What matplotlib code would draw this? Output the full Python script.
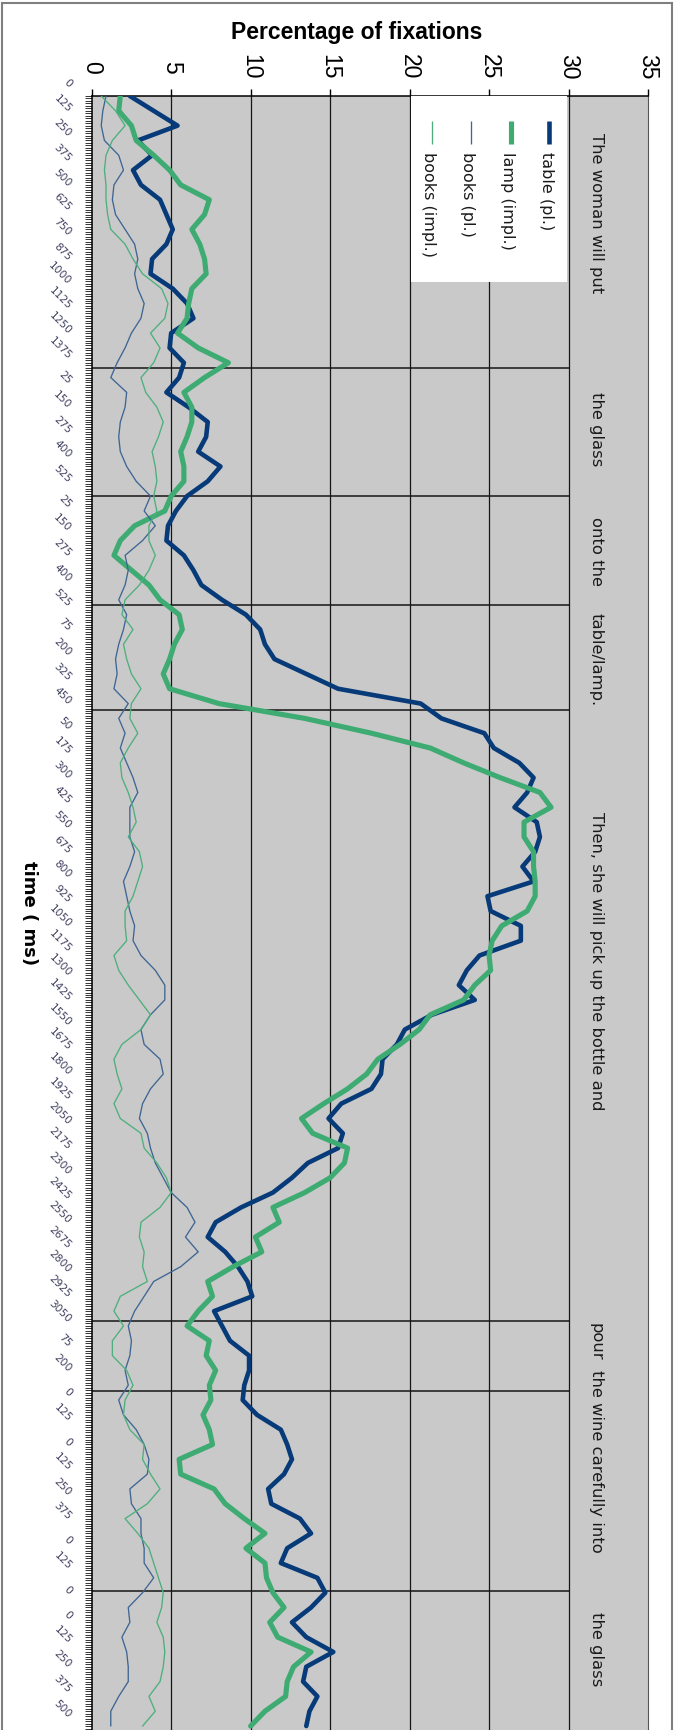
import matplotlib
matplotlib.use("Agg")
import matplotlib.pyplot as plt
import matplotlib.transforms as mtransforms
from matplotlib.patches import Rectangle
from matplotlib.ticker import MultipleLocator
import numpy as np

# Fixation percentages, one value every third 25 ms bin along the sentence
table_pl = [
    2.4, 3.9, 5.4, 2.9, 3.8, 2.6, 3.1, 4.3, 4.7, 5.1, 4.7, 3.8, 3.7, 5.1, 6.0, 6.4, 5.0, 4.9, 5.8, 5.5,
    4.7, 6.1, 7.3, 7.2, 6.7, 8.1, 7.3, 6.0,
    5.3, 4.8, 4.7, 5.8, 6.4, 6.9, 8.2, 9.7, 10.6, 10.9, 11.5, 13.5, 15.5, 20.7, 22.0, 24.7, 25.3, 26.9,
    27.8, 27.4, 26.6, 28.0, 28.2, 27.9, 27.1, 27.8, 24.9,
    25.1, 27.0, 27.0, 24.4, 23.6, 23.1, 24.1, 21.4, 19.7, 19.2, 18.3, 18.2, 17.6, 15.7, 14.9, 15.8, 15.5,
    13.6, 12.6, 11.4, 9.4, 7.8, 7.3, 8.4, 9.2, 9.8, 10.1, 7.7,
    8.2, 8.7, 9.9, 9.9, 9.6, 9.5, 10.4, 11.9, 12.3, 12.6, 12.1, 11.1, 11.3, 13.1, 13.8, 12.3, 11.9, 14.2,
    14.7, 13.8, 12.6, 13.5, 15.2, 13.5, 13.3, 14.2, 13.7, 13.5,
]
lamp_impl = [
    1.8, 1.7, 2.5, 2.8, 3.9, 4.9, 5.6, 7.4, 7.1, 6.3, 6.8, 7.1, 7.2, 6.3, 6.1, 6.0, 5.4, 6.7, 8.6, 7.1,
    5.8, 6.3, 6.3, 6.0, 5.6, 5.8, 5.8, 5.0,
    4.6, 2.7, 1.8, 1.4, 2.5, 3.6, 4.3, 5.5, 5.7, 5.2, 4.9, 4.5, 4.9, 8.0, 13.4, 17.6, 21.3, 23.4, 25.7,
    28.2, 28.9, 27.2, 27.2, 27.8, 27.8, 27.9, 27.9,
    27.4, 25.8, 25.2, 25.0, 25.1, 24.1, 23.4, 21.3, 20.6, 19.4, 18.0, 17.3, 16.1, 14.6, 13.2, 13.9, 16.1,
    15.9, 15.0, 13.4, 11.4, 11.8, 10.3, 10.7, 8.9, 7.3, 7.6, 6.7,
    6.0, 7.4, 7.2, 7.8, 7.4, 7.5, 7.0, 7.4, 7.6, 5.5, 5.6, 7.7, 8.4, 9.6, 10.9, 9.7, 10.9, 11.0, 11.4,
    12.1, 11.2, 11.7, 13.8, 12.7, 12.3, 12.2, 10.9, 10.0,
]
books_pl = [
    0.9, 0.7, 0.6, 0.8, 1.7, 2.0, 1.4, 1.3, 1.5, 2.1, 2.7, 2.9, 2.7, 2.9, 3.3, 3.1, 2.5, 2.1, 1.6, 1.2,
    2.2, 2.1, 1.8, 1.7, 1.8, 2.2, 2.8, 3.7,
    3.3, 4.0, 3.2, 2.1, 2.3, 2.1, 1.7, 2.2, 2.0, 1.7, 1.5, 1.6, 1.4, 2.3, 1.7, 2.1, 1.8, 2.2, 2.6, 2.9,
    2.4, 2.4, 2.4, 2.7, 2.4, 2.0, 2.2,
    2.4, 2.7, 2.6, 3.1, 4.0, 4.6, 4.6, 3.7, 3.1, 3.3, 4.3, 4.5, 3.7, 3.2, 3.0, 3.5, 3.7, 4.0, 4.5, 5.0,
    6.0, 6.5, 5.9, 6.7, 5.6, 3.9, 3.3, 2.7,
    2.3, 2.5, 2.4, 2.1, 2.3, 1.7, 2.0, 2.8, 3.3, 3.6, 3.5, 2.4, 2.5, 3.1, 3.1, 3.3, 3.3, 3.9, 3.2, 2.3,
    2.4, 1.9, 2.2, 2.3, 2.3, 1.7, 1.2, 1.2,
]
books_impl = [
    0.6, 1.5, 2.1, 1.3, 0.9, 0.8, 0.9, 0.9, 1.0, 1.2, 2.1, 2.6, 3.2, 4.4, 4.8, 4.6, 3.7, 4.3, 3.9, 3.1,
    3.4, 4.1, 4.5, 4.2, 3.8, 4.0, 4.1, 3.9,
    4.1, 3.6, 3.6, 4.0, 3.6, 3.0, 2.1, 1.9, 2.6, 2.0, 2.2, 2.5, 3.1, 2.5, 2.4, 2.9, 2.3, 1.8, 1.9, 2.3,
    2.6, 2.8, 2.3, 3.0, 3.2, 2.9, 2.6,
    2.1, 2.1, 2.2, 1.4, 1.7, 2.3, 3.0, 3.7, 3.1, 1.9, 1.4, 1.6, 1.9, 1.4, 1.8, 3.1, 3.3, 4.1, 4.7, 5.0,
    4.3, 3.1, 3.0, 3.3, 3.2, 3.5, 1.8, 1.4,
    2.0, 1.3, 1.3, 2.2, 2.6, 2.1, 2.0, 2.4, 3.3, 3.2, 3.7, 4.3, 3.5, 2.1, 2.9, 3.6, 3.9, 4.2, 4.5, 4.4,
    4.1, 4.5, 4.6, 4.5, 4.3, 3.6, 4.0, 3.2,
]

# time (ms) from the onset of each word, shown on every fifth bin
time_labels = [
    "0", "125", "250", "375", "500", "625", "750", "875", "1000", "1125", "1250", "1375",
    "25", "150", "275", "400", "525",
    "25", "150", "275", "400", "525",
    "75", "200", "325", "450",
    "50", "175", "300", "425", "550", "675", "800", "925", "1050", "1175", "1300", "1425", "1550",
    "1675", "1800", "1925", "2050", "2175", "2300", "2425", "2550", "2675", "2800", "2925", "3050",
    "75", "200",
    "0", "125", "0", "125", "250", "375", "0", "125",
    "0", "0", "125", "250", "375", "500",
]
value_ticks = [0, 5, 10, 15, 20, 25, 30, 35]

phrases = ["The woman will put", "the glass", "onto the", "table/lamp.",
           "Then, she will pick up the bottle and", "pour",
           "the wine carefully into", "the glass"]
phrase_bins = [7.3, 59.7, 85.0, 104.5, 144.7, 248.2, 257.7, 306.7]
region_breaks = [55.1, 80.9, 103.1, 124.4, 248.0, 262.2, 302.6]

series = [
    ("table (pl.)", table_pl, "#063a78", 3.3),
    ("lamp (impl.)", lamp_impl, "#3dab72", 3.7),
    ("books (pl.)", books_pl, "#3e6593", 0.95),
    ("books (impl.)", books_impl, "#4daf7c", 0.95),
]

SAMPLE_STEP = 3
BIN_SPAN = 330.8
W, H = 675, 1731

fig = plt.figure(figsize=(W / 100, H / 100), dpi=100)
ax = fig.add_axes([91.7 / W, 0, 556.3 / W, 1634 / H])
ax.set_facecolor("#c9c9c9")
ax.set_xlim(0, 35)
ax.set_ylim(BIN_SPAN, 0)

# vertical gridlines and the word boundaries
for v in value_ticks[1:-1]:
    ax.axvline(v, color="#151515", lw=0.9, zorder=1)
for b in region_breaks:
    ax.plot([0, 30], [b, b], color="#151515", lw=1.1, zorder=1, solid_capstyle="butt")

bins = np.arange(len(table_pl)) * SAMPLE_STEP
for name, vals, color, lw in series:
    ax.plot(vals, bins, color=color, lw=lw, zorder=3,
            solid_joinstyle="round", solid_capstyle="round")

# spines / axes
ax.spines["bottom"].set_visible(False)
ax.spines["top"].set_linewidth(1.1)
ax.spines["left"].set_linewidth(1.1)
ax.spines["right"].set_color("#555555")
ax.spines["right"].set_linewidth(0.8)

ax.xaxis.tick_top()
ax.set_xticks(value_ticks)
ax.tick_params(axis="x", which="major", direction="out", length=5, width=1,
               labeltop=False, labelbottom=False)

label_bins = np.arange(len(time_labels)) * 5
ax.set_yticks(label_bins)
ax.set_yticklabels(time_labels, rotation=-45, ha="right", va="center",
                   rotation_mode="anchor", fontsize=7.7, color="#404060")
ax.yaxis.set_minor_locator(MultipleLocator(0.5))
ax.tick_params(axis="y", which="both", direction="out", length=5, width=0.7,
               color="#333333", pad=10.8)
shift = mtransforms.ScaledTranslation(0, 0.11, fig.dpi_scale_trans)
for lbl in ax.get_yticklabels():
    lbl.set_transform(lbl.get_transform() + shift)

# value axis labels along the top
top_tr = mtransforms.blended_transform_factory(ax.transData, ax.transAxes)
for v in value_ticks:
    ax.text(v, 1 + 30 / 1634, str(v), transform=top_tr, rotation=-90,
            ha="center", va="center", fontsize=16.5, family="Liberation Sans",
            clip_on=False)

# phrase of the sentence heard at each point
for text, b in zip(phrases, phrase_bins):
    ax.text(31.73, b, text, rotation=-90, rotation_mode="anchor", ha="left",
            va="center", fontsize=11.8, color="#1a1a1a", zorder=4)

# legend box
ax.add_patch(Rectangle((20.08, 0), 9.84, 37.7, facecolor="white",
                       edgecolor="none", zorder=5))
legend_x = [28.8, 26.35, 23.85, 21.4]
for (name, vals, color, lw), lx in zip(series, legend_x):
    ax.plot([lx, lx], [5.1, 9.7], color=color, lw=lw, zorder=6,
            solid_capstyle="butt")
    ax.text(lx - 0.2, 11.1, name, rotation=-90, rotation_mode="anchor",
            ha="left", va="center", fontsize=11.5, color="#1a1a1a", zorder=6)

fig.text(357 / W, 1 - 33 / H, "Percentage of fixations", ha="center",
         va="center", fontsize=16.5, fontweight="bold", family="Liberation Sans")
fig.text(29 / W, 1 - 913 / H, "time ( ms)", rotation=-90, ha="center",
         va="center", fontsize=13, fontweight="bold", family="DejaVu Sans")

# chart frame
fig.patches.append(Rectangle((2 / W, -0.01), 670 / W, 1 - 4 / H + 0.01,
                             transform=fig.transFigure, fill=False,
                             edgecolor="#7f7f7f", lw=1.5))

fig.savefig("out.png", dpi=100)
